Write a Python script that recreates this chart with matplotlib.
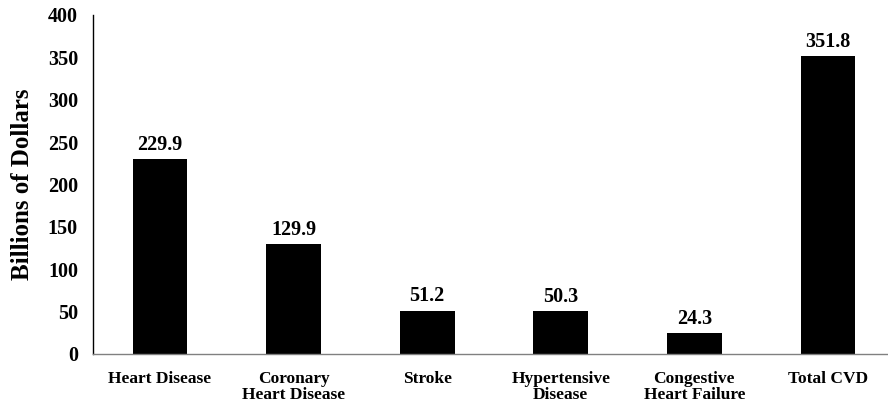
import matplotlib.pyplot as plt
import numpy as np

categories = ['Heart Disease', 'Coronary\nHeart Disease', 'Stroke',
              'Hypertensive\nDisease', 'Congestive\nHeart Failure', 'Total CVD']
costs = [229.9, 129.9, 51.2, 50.3, 24.3, 351.8]
yticks = [0, 50, 100, 150, 200, 250, 300, 350, 400]

plt.rcParams['font.family'] = ['Liberation Serif', 'DejaVu Serif']
plt.rcParams['font.weight'] = 'bold'

fig = plt.figure(figsize=(8.88, 4.04), dpi=100)
ax = fig.add_axes([0.105, 0.124, 0.895, 0.839])

x = np.arange(len(categories))
bars = ax.bar(x, costs, width=0.41, color='black')
for b, v in zip(bars, costs):
    ax.text(b.get_x() + b.get_width() / 2, v + 5, f'{v:.1f}',
            ha='center', va='bottom', fontsize=14.5, fontweight='bold')

ax.set_xlim(-0.5, 5.45)
ax.set_ylim(0, 400)
ax.set_yticks(yticks)
ax.set_xticks(x)
ax.set_xticklabels(categories, fontsize=12.5, fontweight='bold', linespacing=1.05)
ax.tick_params(axis='y', length=0, pad=11, labelsize=14.5)
ax.tick_params(axis='x', length=0, pad=12)
for lbl in ax.get_yticklabels():
    lbl.set_fontweight('bold')

ax.spines['top'].set_visible(False)
ax.spines['right'].set_visible(False)
ax.spines['left'].set_color('black')
ax.spines['left'].set_linewidth(1.0)
ax.spines['bottom'].set_color('#808080')
ax.spines['bottom'].set_linewidth(1.0)

ax.set_ylabel('Billions of Dollars', fontsize=18, fontweight='bold', labelpad=10)

fig.savefig('out.png', dpi=100)
